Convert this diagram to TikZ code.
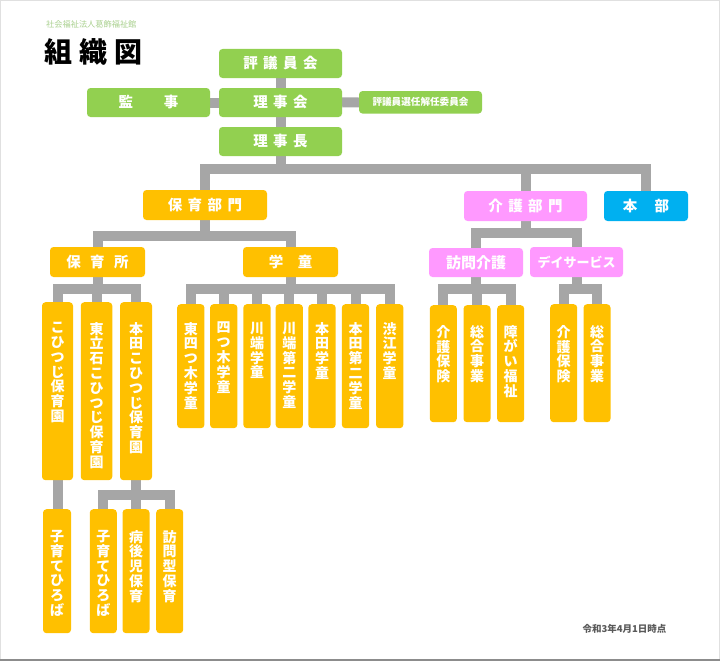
\documentclass[tikz,border=0pt]{standalone}
\usepackage{fontspec}
\newfontfamily\jp{Noto Sans CJK JP}
\usetikzlibrary{backgrounds}
\definecolor{cgreen}{HTML}{92D050}
\definecolor{corange}{HTML}{FFC000}
\definecolor{cpink}{HTML}{FF99FF}
\definecolor{cblue}{HTML}{00B0F0}
\definecolor{cline}{HTML}{A6A6A6}
\definecolor{csub}{HTML}{A9D08E}
\definecolor{cdate}{HTML}{595959}
\newcommand\kk[1][5.5pt]{\hspace{#1}}
% \tate[pitch]{height}{width}{top offset}{stacked text}
\newcommand\tate[5][14.8pt]{\parbox[c][#2][t]{#3}{\centering\baselineskip=#1\lineskiplimit=-100pt\lineskip=0pt\vspace*{#4}#5\par}}
\begin{document}
\begin{tikzpicture}[x=1pt,y=-1pt,
  box/.style={rounded corners=3.5pt, inner sep=0pt, text=white},
  hb/.style={box, font=\jp\bfseries\fontsize{14.5}{16}\selectfont},
  gbox/.style={hb, fill=cgreen, minimum width=123pt, minimum height=29pt},
  obox/.style={hb, fill=corange},
  pbox/.style={hb, fill=cpink},
  bbox/.style={hb, fill=cblue},
  vb/.style={box, fill=corange, anchor=north, font=\jp\bfseries\fontsize{14}{14.8}\selectfont},
  conn/.style={draw=cline, line width=10pt},
]
\useasboundingbox (0,0) rectangle (720,661);
\draw[black!12, line width=1pt] (0.5,0.5) rectangle (719.5,660.5);
\draw[black!45, line width=1.5pt] (0,660) -- (720,660);

% titles
\node[anchor=west, text=csub, inner sep=0pt, font=\jp\fontsize{8.2}{9}\selectfont] (org) at (46,24.5) {社会福祉法人葛飾福祉館};
\node[anchor=west, inner sep=0pt, font=\jp\bfseries\fontsize{28}{30}\selectfont] (title) at (44,51.5) {組\kk[7pt]織\kk[7pt]図};
\node[text=cdate, inner sep=0pt, font=\jp\bfseries\fontsize{9.5}{11}\selectfont] (date) at (624.5,629) {令和3年4月1日時点};

% top level
\node[gbox] (hyogi) at (280.5,63.5) {評\kk 議\kk 員\kk 会};
\node[gbox] (riji) at (280.5,102.5) {理\kk 事\kk 会};
\node[gbox] (kanji) at (148.5,102.5) {監\kk[31pt]事};
\node[gbox, minimum height=22.5pt, font=\jp\bfseries\fontsize{9.6}{11}\selectfont] (senin) at (420.5,102.3) {評議員選任解任委員会};
\node[gbox] (rijicho) at (280.5,141.5) {理\kk 事\kk 長};

% level 2
\node[obox, minimum width=124pt, minimum height=30pt] (hoikubu) at (205,205) {保\kk 育\kk 部\kk 門};
\node[pbox, minimum width=123pt, minimum height=30pt] (kaigobu) at (525.5,206) {介\kk 護\kk 部\kk 門};
\node[bbox, minimum width=84pt, minimum height=30pt] (honbu) at (646,206) {本\kk[17.5pt]部};

% level 3
\node[obox, minimum width=95pt, minimum height=30pt] (hoikusho) at (97.5,262) {保\kk[9.5pt]育\kk[9.5pt]所};
\node[obox, minimum width=95pt, minimum height=30pt] (gakudo) at (290.5,262) {学\kk[14.5pt]童};
\node[pbox, minimum width=94pt, minimum height=29pt, font=\jp\bfseries\fontsize{15}{16}\selectfont] (homon) at (476,262.5) {訪問介護};
\node[pbox, minimum width=93pt, minimum height=30pt, font=\jp\bfseries\fontsize{13}{15}\selectfont] (day) at (576.5,262) {デイサービス};

% nursery schools
\node[vb] (kohitsuji) at (57.5,302) {\tate{178pt}{31pt}{20pt}{こ\\ひ\\つ\\じ\\保\\育\\園}};
\node[vb] (higashi) at (96.5,302) {\tate{178pt}{31.5pt}{20pt}{東\\立\\石\\こ\\ひ\\つ\\じ\\保\\育\\園}};
\node[vb] (hondakoh) at (136,302) {\tate{178pt}{32pt}{20pt}{本\\田\\こ\\ひ\\つ\\じ\\保\\育\\園}};

% gakudo
\node[vb] (g1) at (190.8,304) {\tate{124pt}{27.3pt}{18pt}{東\\四\\つ\\木\\学\\童}};
\node[vb] (g2) at (223.7,304) {\tate{124pt}{27.3pt}{18pt}{四\\つ\\木\\学\\童}};
\node[vb] (g3) at (257,304) {\tate{124pt}{27.3pt}{18pt}{川\\端\\学\\童}};
\node[vb] (g4) at (289.3,304) {\tate{124pt}{27.3pt}{18pt}{川\\端\\第\\二\\学\\童}};
\node[vb] (g5) at (322,304) {\tate{124pt}{27.3pt}{18pt}{本\\田\\学\\童}};
\node[vb] (g6) at (355.5,304) {\tate{124pt}{27.3pt}{18pt}{本\\田\\第\\二\\学\\童}};
\node[vb] (g7) at (389.7,304) {\tate{124pt}{27.3pt}{18pt}{渋\\江\\学\\童}};

% kaigo
\node[vb] (k1) at (443.3,305) {\tate{117pt}{27pt}{20pt}{介\\護\\保\\険}};
\node[vb] (k2) at (477,305) {\tate{117pt}{27pt}{20pt}{総\\合\\事\\業}};
\node[vb] (k3) at (510.7,305) {\tate{117pt}{27pt}{20pt}{障\\が\\い\\福\\祉}};
\node[vb] (d1) at (563.7,304) {\tate{118pt}{27pt}{21pt}{介\\護\\保\\険}};
\node[vb] (d2) at (597,304) {\tate{118pt}{27pt}{21pt}{総\\合\\事\\業}};

% bottom
\node[vb] (b1) at (57,509) {\tate{124pt}{28pt}{21pt}{子\\育\\て\\ひ\\ろ\\ば}};
\node[vb] (b2) at (103.3,509) {\tate{124pt}{27pt}{21pt}{子\\育\\て\\ひ\\ろ\\ば}};
\node[vb] (b3) at (136,509) {\tate{124pt}{27pt}{21pt}{病\\後\\児\\保\\育}};
\node[vb] (b4) at (169.7,509) {\tate{124pt}{27pt}{21pt}{訪\\問\\型\\保\\育}};

\begin{pgfonlayer}{background}
\coordinate (y1) at (0,169);
\coordinate (y2) at (0,236);
\coordinate (y2b) at (0,233);
\coordinate (y3) at (0,289);
\coordinate (y4) at (0,494.5);
\draw[conn] (hyogi.south) -- (riji.north);
\draw[conn] (riji.south) -- (rijicho.north);
\draw[conn] (kanji.east) -- (riji.west);
\draw[conn] (riji.east) -- (senin.west);
% level 2
\draw[conn] (rijicho.south) -- (rijicho.south |- y1);
\draw[conn] (hoikubu.north) |- (honbu.north |- y1) -- (honbu.north);
\draw[conn] (kaigobu.north) -- (kaigobu.north |- y1);
% level 3
\draw[conn] (hoikubu.south) -- (hoikubu.south |- y2);
\draw[conn] (hoikusho.north) |- (gakudo.north |- y2) -- (gakudo.north);
\draw[conn] (kaigobu.south) -- (kaigobu.south |- y2b);
\draw[conn] (homon.north) |- (day.north |- y2b) -- (day.north);
% level 4
\draw[conn] (hoikusho.south) -- (hoikusho.south |- y3);
\draw[conn] (kohitsuji.north) |- (hondakoh.north |- y3) -- (hondakoh.north);
\draw[conn] (higashi.north) -- (higashi.north |- y3);
\draw[conn] (gakudo.south) -- (gakudo.south |- y3);
\draw[conn] (g1.north) |- (g7.north |- y3) -- (g7.north);
\foreach \n in {g2,g3,g4,g5,g6} \draw[conn] (\n.north) -- (\n.north |- y3);
\draw[conn] (homon.south) -- (homon.south |- y3);
\draw[conn] (k1.north) |- (k3.north |- y3) -- (k3.north);
\draw[conn] (k2.north) -- (k2.north |- y3);
\draw[conn] (day.south) -- (day.south |- y3);
\draw[conn] (d1.north) |- (d2.north |- y3) -- (d2.north);
% bottom
\draw[conn] (kohitsuji.south) -- (kohitsuji.south |- b1.north);
\draw[conn] (hondakoh.south) -- (hondakoh.south |- y4);
\draw[conn] (b2.north) |- (b4.north |- y4) -- (b4.north);
\draw[conn] (b3.north) -- (b3.north |- y4);
\end{pgfonlayer}
\end{tikzpicture}
\end{document}
